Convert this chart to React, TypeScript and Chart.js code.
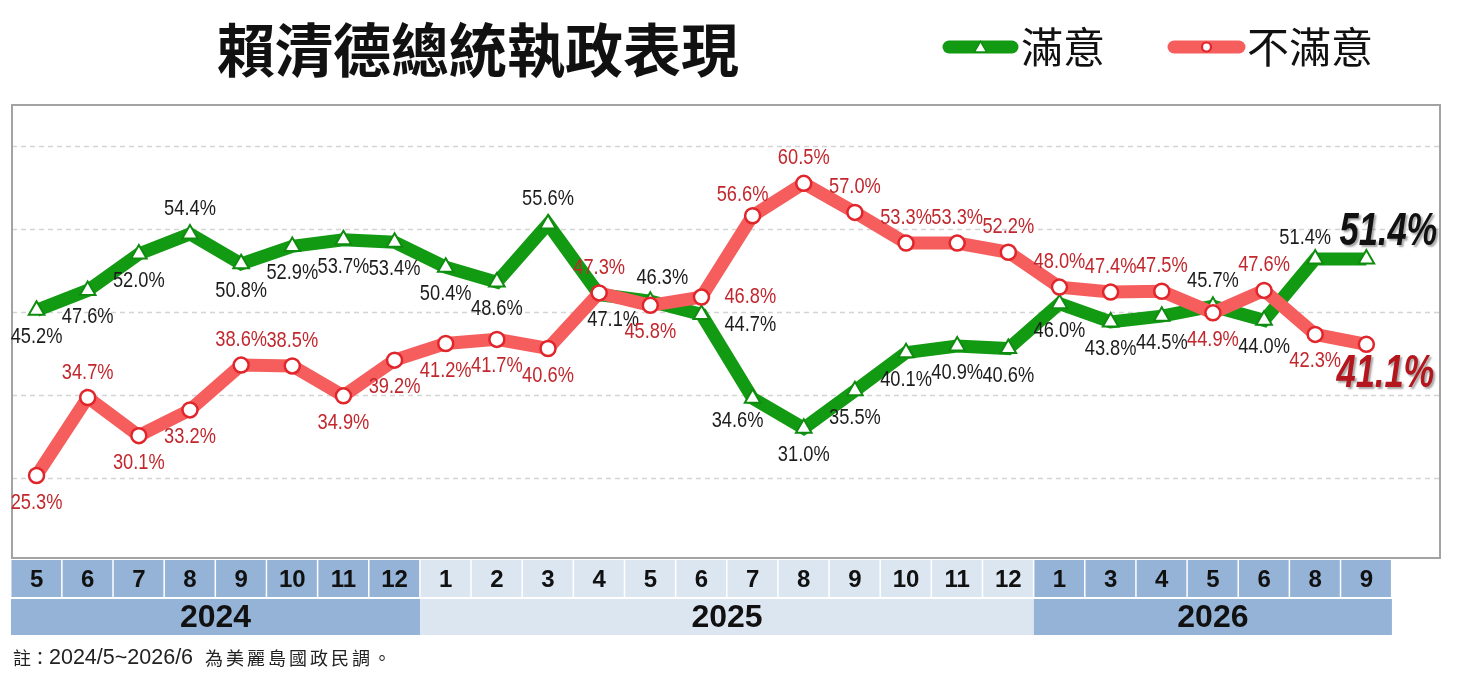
import React, { useEffect, useRef } from 'react';
import { Chart, registerables } from 'chart.js';

Chart.register(...registerables);

// ---------- data ----------
const titleText = '賴清德總統執政表現';
const seriesNames = ['滿意', '不滿意'];
const monthLabels = ['5', '6', '7', '8', '9', '10', '11', '12', '1', '2', '3', '4', '5', '6', '7', '8', '9', '10', '11', '12', '1', '3', '4', '5', '6', '8', '9'];
const yearLabels = ['2024', '2025', '2026'];
const yearSpans = [8, 12, 7];
const satisfied = [45.2, 47.6, 52.0, 54.4, 50.8, 52.9, 53.7, 53.4, 50.4, 48.6, 55.6, 47.1, 46.3, 44.7, 34.6, 31.0, 35.5, 40.1, 40.9, 40.6, 46.0, 43.8, 44.5, 45.7, 44.0, 51.4, 51.4];
const dissatisfied = [25.3, 34.7, 30.1, 33.2, 38.6, 38.5, 34.9, 39.2, 41.2, 41.7, 40.6, 47.3, 45.8, 46.8, 56.6, 60.5, 57.0, 53.3, 53.3, 52.2, 48.0, 47.4, 47.5, 44.9, 47.6, 42.3, 41.1];
const gridValues = [25, 35, 45, 55, 65];
const footnoteParts = ['註：', '2024/5~2026/6', '為美麗島國政民調。'];

// label placement (layout keywords, not data)
const satisfiedLabelSide = ['b', 'b', 'b', 'a', 'b', 'b', 'b', 'b', 'b', 'b', 'a', 'br', 'ar', 'rb', 'bl', 'b', 'b', 'b', 'b', 'b', 'b', 'b', 'b', 'a', 'b', 'al', 'BA'];
const dissatisfiedLabelSide = ['b', 'a', 'b', 'b', 'a', 'a', 'b', 'b', 'b', 'b', 'b', 'a', 'b', 'r', 'al', 'a', 'a', 'a', 'a', 'a', 'a', 'a', 'a', 'b', 'a', 'b', 'BB'];

// ---------- styles ----------
const GREEN = '#139a13';
const GREEN_DARK = '#0f8c0f';
const RED = '#f65e5e';
const RED_DARK = '#e0252b';
const LABEL_DARK = '#1c1c1c';
const LABEL_RED = '#c1272d';
const CELL_DARK = '#95b3d7';
const CELL_LIGHT = '#dce6f1';
const LATIN = '"Liberation Sans", Arial, sans-serif';
const CJK = '"Noto Sans CJK TC", "Noto Sans CJK SC", sans-serif';

const offsets: Record<string, [number, number, CanvasTextAlign]> = {
  a: [0, -25, 'center'],
  b: [0, 27, 'center'],
  br: [14, 25, 'center'],
  bl: [-15, 23, 'center'],
  ar: [12, -23, 'center'],
  al: [-10, -21, 'center'],
  r: [23, 0, 'left'],
  rb: [23, 10, 'left'],
  BA: [22, -27, 'center'],
  BB: [19, 30, 'center'],
};

function condText(ctx: CanvasRenderingContext2D, txt: string, x: number, y: number, align: CanvasTextAlign, sx: number) {
  ctx.save();
  ctx.translate(x, y);
  ctx.scale(sx, 1);
  ctx.textAlign = align;
  ctx.fillText(txt, 0, 0);
  ctx.restore();
}

function drawTriangle(ctx: CanvasRenderingContext2D, x: number, y: number, r: number, stroke: string, lw: number) {
  ctx.save();
  ctx.beginPath();
  ctx.moveTo(x, y - r);
  ctx.lineTo(x + r * 0.866, y + r * 0.5);
  ctx.lineTo(x - r * 0.866, y + r * 0.5);
  ctx.closePath();
  ctx.fillStyle = '#ffffff';
  ctx.fill();
  ctx.lineWidth = lw;
  ctx.strokeStyle = stroke;
  ctx.stroke();
  ctx.restore();
}

function drawCircle(ctx: CanvasRenderingContext2D, x: number, y: number, r: number, stroke: string, lw: number) {
  ctx.save();
  ctx.beginPath();
  ctx.arc(x, y, r, 0, Math.PI * 2);
  ctx.fillStyle = '#ffffff';
  ctx.fill();
  ctx.lineWidth = lw;
  ctx.strokeStyle = stroke;
  ctx.stroke();
  ctx.restore();
}

const decorPlugin = {
  id: 'decor',
  beforeDatasetsDraw(chart: any) {
    const { ctx, chartArea, scales } = chart;
    const ys = scales.y;
    ctx.save();
    ctx.strokeStyle = '#d4d4d4';
    ctx.lineWidth = 1.5;
    ctx.setLineDash([5, 4]);
    gridValues.forEach((v) => {
      const y = Math.round(ys.getPixelForValue(v)) + 0.5;
      ctx.beginPath();
      ctx.moveTo(chartArea.left, y);
      ctx.lineTo(chartArea.right, y);
      ctx.stroke();
    });
    ctx.setLineDash([]);
    ctx.strokeStyle = '#a3a3a3';
    ctx.lineWidth = 2;
    ctx.strokeRect(chartArea.left, chartArea.top, chartArea.right - chartArea.left, chartArea.bottom - chartArea.top);
    ctx.restore();
  },
  afterDatasetsDraw(chart: any) {
    const { ctx } = chart;
    const sets = [
      { meta: chart.getDatasetMeta(0), values: satisfied, sides: satisfiedLabelSide, color: LABEL_DARK, big: '#111111' },
      { meta: chart.getDatasetMeta(1), values: dissatisfied, sides: dissatisfiedLabelSide, color: LABEL_RED, big: '#b3161c' },
    ];
    ctx.save();
    ctx.textBaseline = 'middle';
    sets.forEach((s) => {
      s.values.forEach((v, i) => {
        const pt = s.meta.data[i];
        const side = s.sides[i];
        const [dx, dy, align] = offsets[side];
        const txt = v.toFixed(1) + '%';
        if (side === 'BA' || side === 'BB') {
          ctx.save();
          ctx.font = `italic bold 46px ${LATIN}`;
          ctx.shadowColor = 'rgba(0,0,0,0.35)';
          ctx.shadowOffsetX = 2;
          ctx.shadowOffsetY = 2;
          ctx.shadowBlur = 2;
          ctx.fillStyle = s.big;
          condText(ctx, txt, pt.x + dx, pt.y + dy, align, 0.75);
          ctx.restore();
        } else {
          ctx.font = `22px ${LATIN}`;
          ctx.fillStyle = s.color;
          condText(ctx, txt, pt.x + dx, pt.y + dy, align, 0.83);
        }
      });
    });
    ctx.restore();
  },
  afterDraw(chart: any) {
    const { ctx, chartArea, scales } = chart;
    const xs = scales.x;
    ctx.save();

    // title
    ctx.fillStyle = '#111111';
    ctx.textBaseline = 'middle';
    ctx.textAlign = 'center';
    ctx.font = `bold 58px ${CJK}`;
    ctx.fillText(titleText, 478, 50);

    // legend
    const legend = [
      { x0: 943, x1: 1018, color: GREEN, marker: 'tri', name: seriesNames[0], tx: 1021 },
      { x0: 1168, x1: 1245, color: RED, marker: 'cir', name: seriesNames[1], tx: 1247 },
    ];
    legend.forEach((l) => {
      ctx.save();
      ctx.strokeStyle = l.color;
      ctx.lineWidth = 13;
      ctx.lineCap = 'round';
      ctx.beginPath();
      ctx.moveTo(l.x0 + 6, 47);
      ctx.lineTo(l.x1 - 6, 47);
      ctx.stroke();
      ctx.restore();
      const mx = (l.x0 + l.x1) / 2;
      if (l.marker === 'tri') drawTriangle(ctx, mx, 48.5, 7, GREEN_DARK, 1.5);
      else drawCircle(ctx, mx, 47, 4.5, RED_DARK, 2.2);
      ctx.fillStyle = '#111111';
      ctx.textAlign = 'left';
      ctx.font = `42px ${CJK}`;
      ctx.fillText(l.name, l.tx, 47);
    });

    // table
    const rowTop = chartArea.bottom + 2;
    const rowMid = rowTop + 38;
    const rowBottom = rowMid + 37;
    let start = 0;
    yearLabels.forEach((yr, g) => {
      const end = start + yearSpans[g];
      const fill = g % 2 === 0 ? CELL_DARK : CELL_LIGHT;
      const gx0 = xs.getPixelForValue(start - 0.5);
      const gx1 = xs.getPixelForValue(end - 0.5);
      ctx.fillStyle = fill;
      ctx.fillRect(gx0, rowMid + 1, gx1 - gx0, rowBottom - rowMid - 1);
      for (let i = start; i < end; i++) {
        const x0 = xs.getPixelForValue(i - 0.5);
        const x1 = xs.getPixelForValue(i + 0.5);
        ctx.fillStyle = fill;
        ctx.fillRect(x0 + 0.5, rowTop, x1 - x0 - 1.5, rowMid - rowTop - 1);
        ctx.fillStyle = '#111111';
        ctx.textAlign = 'center';
        ctx.font = `bold 24px ${LATIN}`;
        ctx.fillText(monthLabels[i], (x0 + x1) / 2, (rowTop + rowMid) / 2 + 1);
      }
      ctx.fillStyle = '#111111';
      ctx.textAlign = 'center';
      ctx.font = `bold 32px ${LATIN}`;
      ctx.fillText(yr, (gx0 + gx1) / 2, (rowMid + rowBottom) / 2 + 2);
      start = end;
    });

    // footnote
    ctx.textAlign = 'left';
    ctx.fillStyle = '#222222';
    let fx = 13;
    ctx.font = `18px ${CJK}`;
    ctx.fillText(footnoteParts[0], fx, 658);
    fx += ctx.measureText(footnoteParts[0]).width;
    ctx.font = `21.5px ${LATIN}`;
    ctx.fillText(footnoteParts[1], fx, 658);
    fx += ctx.measureText(footnoteParts[1]).width + 12;
    ctx.font = `18px ${CJK}`;
    (ctx as any).letterSpacing = '3px';
    ctx.fillText(footnoteParts[2], fx, 658);
    (ctx as any).letterSpacing = '0px';

    ctx.restore();
  },
};

export default function App() {
  const ref = useRef<HTMLCanvasElement | null>(null);

  useEffect(() => {
    if (!ref.current) return;
    const chart = new Chart(ref.current, {
      type: 'line',
      data: {
        datasets: [
          {
            label: seriesNames[0],
            data: satisfied.map((v, i) => ({ x: i, y: v })),
            borderColor: GREEN,
            borderWidth: 13,
            pointStyle: 'triangle',
            pointRadius: 9,
            pointBackgroundColor: '#ffffff',
            pointBorderColor: GREEN_DARK,
            pointBorderWidth: 2,
            tension: 0,
            order: 2,
          },
          {
            label: seriesNames[1],
            data: dissatisfied.map((v, i) => ({ x: i, y: v })),
            borderColor: RED,
            borderWidth: 13,
            pointStyle: 'circle',
            pointRadius: 7.5,
            pointBackgroundColor: '#ffffff',
            pointBorderColor: RED_DARK,
            pointBorderWidth: 2.5,
            tension: 0,
            order: 1,
          },
        ],
      },
      options: {
        animation: false,
        responsive: false,
        maintainAspectRatio: false,
        layout: { padding: { left: 12, top: 105, right: 25, bottom: 124 } },
        scales: {
          x: { type: 'linear', min: -0.48, max: 27.44, display: false },
          y: { type: 'linear', min: 15.36, max: 69.94, display: false },
        },
        plugins: {
          legend: { display: false },
          tooltip: { enabled: false },
          title: { display: false },
        },
      },
      plugins: [decorPlugin],
    } as any);
    return () => chart.destroy();
  }, []);

  return (
    <div style={{ position: 'fixed', left: 0, top: 0, width: 1465, height: 682, background: '#ffffff' }}>
      <canvas ref={ref} width={1465} height={682} style={{ width: 1465, height: 682, display: 'block' }} />
    </div>
  );
}
